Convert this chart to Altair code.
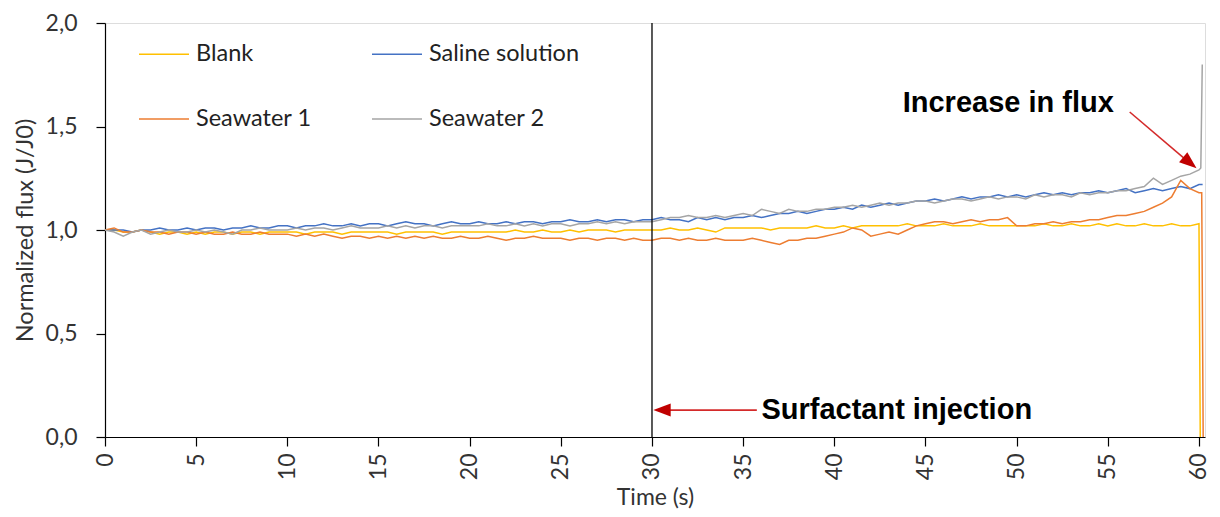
import altair as alt
import pandas as pd

# ---------------- data ----------------
series_names = ["Blank", "Saline solution", "Seawater 1", "Seawater 2"]
series_colors = ["#FFC000", "#4472C4", "#ED7D31", "#A5A5A5"]
# legend fills column by column, so this order gives rows
# "Blank | Saline solution" and "Seawater 1 | Seawater 2"
legend_order = ["Blank", "Seawater 1", "Saline solution", "Seawater 2"]
legend_colors = ["#FFC000", "#ED7D31", "#4472C4", "#A5A5A5"]

times = [i * 0.5 for i in range(121)]

blank = [
    1.00, 1.00, 0.99, 0.99, 1.00, 0.99, 0.98, 0.99, 0.99, 0.98,
    0.99, 0.98, 0.99, 0.99, 0.98, 0.99, 0.99, 0.98, 0.99, 0.99,
    0.99, 0.99, 0.98, 0.99, 0.99, 0.99, 0.98, 0.99, 0.99, 0.99,
    0.99, 0.99, 0.98, 0.99, 0.99, 0.99, 0.99, 0.98, 0.99, 0.99,
    0.99, 0.99, 0.99, 0.99, 0.99, 1.00, 0.99, 0.99, 1.00, 0.99,
    0.99, 1.00, 0.99, 1.00, 1.00, 1.00, 0.99, 1.00, 1.00, 1.00,
    1.00, 1.00, 1.01, 1.00, 1.00, 1.01, 1.00, 0.99, 1.01, 1.01,
    1.01, 1.01, 1.01, 1.00, 1.01, 1.01, 1.01, 1.01, 1.02, 1.01,
    1.01, 1.02, 1.01, 1.02, 1.02, 1.02, 1.02, 1.02, 1.03, 1.02,
    1.02, 1.02, 1.03, 1.02, 1.02, 1.02, 1.03, 1.02, 1.02, 1.02,
    1.02, 1.02, 1.02, 1.03, 1.02, 1.02, 1.03, 1.02, 1.02, 1.03,
    1.02, 1.03, 1.02, 1.02, 1.03, 1.02, 1.02, 1.03, 1.02, 1.02,
    1.03,
]
blank_end_t = [60.07]
blank_end_v = [0.0]

saline = [
    1.00, 1.00, 1.00, 0.99, 1.00, 1.00, 1.01, 1.00, 1.00, 1.01,
    1.00, 1.01, 1.01, 1.00, 1.01, 1.01, 1.02, 1.01, 1.01, 1.02,
    1.02, 1.01, 1.02, 1.02, 1.03, 1.02, 1.02, 1.03, 1.02, 1.03,
    1.03, 1.02, 1.03, 1.04, 1.03, 1.03, 1.02, 1.03, 1.04, 1.03,
    1.03, 1.04, 1.03, 1.03, 1.04, 1.03, 1.04, 1.04, 1.03, 1.04,
    1.04, 1.05, 1.04, 1.04, 1.05, 1.04, 1.05, 1.05, 1.04, 1.05,
    1.05, 1.06, 1.05, 1.05, 1.04, 1.06, 1.05, 1.06, 1.05, 1.06,
    1.06, 1.07, 1.06, 1.07, 1.08, 1.08, 1.09, 1.08, 1.09, 1.10,
    1.10, 1.11, 1.10, 1.12, 1.11, 1.12, 1.13, 1.12, 1.13, 1.14,
    1.14, 1.15, 1.14, 1.15, 1.16, 1.15, 1.16, 1.16, 1.17, 1.16,
    1.17, 1.16, 1.17, 1.18, 1.17, 1.18, 1.17, 1.18, 1.18, 1.19,
    1.18, 1.19, 1.20, 1.18, 1.19, 1.20, 1.19, 1.20, 1.21, 1.20,
    1.22,
]
saline_end_t = [60.2]
saline_end_v = [1.22]

seawater1 = [
    1.00, 1.01, 0.99, 0.99, 1.00, 0.99, 0.99, 0.98, 0.99, 0.99,
    0.98, 0.99, 0.98, 0.98, 0.99, 0.98, 0.98, 0.99, 0.98, 0.98,
    0.98, 0.97, 0.98, 0.97, 0.98, 0.97, 0.96, 0.97, 0.97, 0.96,
    0.97, 0.96, 0.97, 0.96, 0.97, 0.96, 0.97, 0.96, 0.96, 0.97,
    0.96, 0.96, 0.97, 0.96, 0.95, 0.96, 0.96, 0.97, 0.96, 0.96,
    0.96, 0.95, 0.96, 0.96, 0.95, 0.96, 0.96, 0.95, 0.96, 0.95,
    0.95, 0.96, 0.96, 0.95, 0.96, 0.95, 0.95, 0.96, 0.95, 0.95,
    0.95, 0.96, 0.95, 0.94, 0.93, 0.95, 0.95, 0.96, 0.96, 0.97,
    0.98, 0.99, 1.01, 1.00, 0.97, 0.98, 0.99, 0.98, 1.00, 1.02,
    1.03, 1.04, 1.04, 1.03, 1.04, 1.05, 1.04, 1.05, 1.05, 1.06,
    1.02, 1.02, 1.03, 1.03, 1.04, 1.03, 1.04, 1.04, 1.05, 1.05,
    1.06, 1.07, 1.07, 1.08, 1.09, 1.11, 1.13, 1.16, 1.24, 1.20,
    1.18,
]
seawater1_end_t = [60.15, 60.23]
seawater1_end_v = [1.18, 0.0]

seawater2 = [
    1.00, 0.99, 0.97, 0.99, 1.00, 0.98, 0.99, 1.00, 0.99, 0.99,
    1.00, 0.99, 1.00, 0.99, 0.98, 1.00, 1.00, 1.01, 1.00, 1.00,
    1.00, 1.01, 1.00, 1.01, 1.01, 1.00, 1.01, 1.02, 1.01, 1.01,
    1.01, 1.02, 1.01, 1.02, 1.01, 1.02, 1.02, 1.01, 1.02, 1.02,
    1.02, 1.02, 1.03, 1.02, 1.02, 1.03, 1.02, 1.03, 1.02, 1.03,
    1.03, 1.02, 1.03, 1.03, 1.04, 1.03, 1.04, 1.03, 1.04, 1.04,
    1.04, 1.05, 1.06, 1.06, 1.07, 1.06, 1.06, 1.07, 1.06, 1.07,
    1.08, 1.07, 1.10, 1.09, 1.08, 1.10, 1.09, 1.09, 1.10, 1.10,
    1.11, 1.11, 1.12, 1.11, 1.12, 1.13, 1.12, 1.13, 1.13, 1.14,
    1.14, 1.13, 1.14, 1.15, 1.15, 1.14, 1.15, 1.16, 1.15, 1.16,
    1.16, 1.15, 1.17, 1.16, 1.17, 1.17, 1.16, 1.18, 1.17, 1.18,
    1.18, 1.19, 1.19, 1.20, 1.21, 1.25, 1.22, 1.24, 1.26, 1.27,
    1.29,
]
seawater2_end_t = [60.1, 60.18]
seawater2_end_v = [1.30, 1.80]

x_ticks = [0, 5, 10, 15, 20, 25, 30, 35, 40, 45, 50, 55, 60]
y_ticks = [0.0, 0.5, 1.0, 1.5, 2.0]

injection_time = [30]

annot_text = ["Increase in flux", "Surfactant injection"]
annot_t = [43.75, 36.0]
annot_v = [1.615, 0.13]

arrow_t1 = [56.2, 35.75]
arrow_v1 = [1.57, 0.13]
arrow_t2 = [59.4, 30.7]
arrow_v2 = [1.33, 0.13]
head_t = [59.5, 30.55]
head_v = [1.325, 0.13]
head_angle = [39.5, 180]

# ---------------- build tables ----------------
rows = []
for name, vals, et, ev in [
    ("Blank", blank, blank_end_t, blank_end_v),
    ("Saline solution", saline, saline_end_t, saline_end_v),
    ("Seawater 1", seawater1, seawater1_end_t, seawater1_end_v),
    ("Seawater 2", seawater2, seawater2_end_t, seawater2_end_v),
]:
    for t, v in zip(times + et, vals + ev):
        rows.append({"t": t, "v": v, "series": name})
df = pd.DataFrame(rows)

xscale = alt.Scale(domain=[0, 60.33], nice=False, zero=False)
yscale = alt.Scale(domain=[0, 2], nice=False)

x_axis = alt.Axis(
    values=x_ticks, title="Time (s)", labelAngle=270, labelFont="Lato",
    labelFontSize=23, labelColor="#333333", titleFont="Lato", titleFontSize=23,
    titleFontWeight="normal", titleColor="#333333", domainColor="#000000",
    domainWidth=1.2, tickColor="#000000", tickWidth=1.2, tickSize=9,
    labelPadding=7, titlePadding=7, grid=False, labelFlush=False,
)
y_axis = alt.Axis(
    values=y_ticks, title="Normalized flux (J/J0)",
    labelExpr="replace(format(datum.value, '.1f'), '.', ',')",
    labelFont="Lato", labelFontSize=23, labelColor="#333333",
    titleFont="Lato", titleFontSize=23.5, titleFontWeight="normal",
    titleColor="#333333", domainColor="#000000", domainWidth=1.2,
    tickColor="#000000", tickWidth=1.2, tickSize=9, labelPadding=19,
    titlePadding=8, grid=False,
)

lines = alt.Chart(df).mark_line(strokeWidth=1.5).encode(
    x=alt.X("t:Q", scale=xscale, axis=x_axis),
    y=alt.Y("v:Q", scale=yscale, axis=y_axis),
    color=alt.Color(
        "series:N",
        scale=alt.Scale(domain=legend_order, range=legend_colors),
        legend=alt.Legend(
            title=None, orient="none", legendX=33, legendY=5, columns=2,
            symbolType="stroke", symbolSize=2500, symbolStrokeWidth=1.5,
            labelFont="Lato", labelFontSize=23.5, labelColor="#222222",
            columnPadding=57, rowPadding=27, labelOffset=6, padding=0,
        ),
    ),
    detail="series:N",
)

vline = alt.Chart(pd.DataFrame({"t": injection_time})).mark_rule(
    color="#000000", strokeWidth=1.3
).encode(x=alt.X("t:Q", scale=xscale))

arrows_df = pd.DataFrame({"t1": arrow_t1, "v1": arrow_v1, "t2": arrow_t2, "v2": arrow_v2})
arrow_lines = alt.Chart(arrows_df).mark_rule(color="#D42A2A", strokeWidth=1.6).encode(
    x=alt.X("t1:Q", scale=xscale), y=alt.Y("v1:Q", scale=yscale),
    x2="t2:Q", y2="v2:Q",
)

heads_df = pd.DataFrame({"t": head_t, "v": head_v, "a": head_angle})
arrow_heads = alt.Chart(heads_df).mark_point(
    shape="M 1 0 L -1 -0.75 L -1 0.75 Z", filled=True, color="#C00000",
    opacity=1, size=300,
).encode(
    x=alt.X("t:Q", scale=xscale), y=alt.Y("v:Q", scale=yscale),
    angle=alt.Angle("a:Q", scale=None),
)

text_df = pd.DataFrame({"t": annot_t, "v": annot_v, "label": annot_text})
annots = alt.Chart(text_df).mark_text(
    align="left", baseline="middle", font="Liberation Sans", fontSize=29,
    fontWeight="bold", color="#000000",
).encode(
    x=alt.X("t:Q", scale=xscale), y=alt.Y("v:Q", scale=yscale), text="label:N"
)

chart = alt.layer(lines, vline, arrow_lines, arrow_heads, annots).properties(
    width=1100, height=414,
    autosize=alt.AutoSizeParams(type="none"),
    padding={"left": 97, "top": 15, "right": 7, "bottom": 72},
).configure_view(stroke="#595959", strokeWidth=1.8).configure(background="white")

chart.save("out.html", embed_options={"renderer": "svg", "actions": False})
